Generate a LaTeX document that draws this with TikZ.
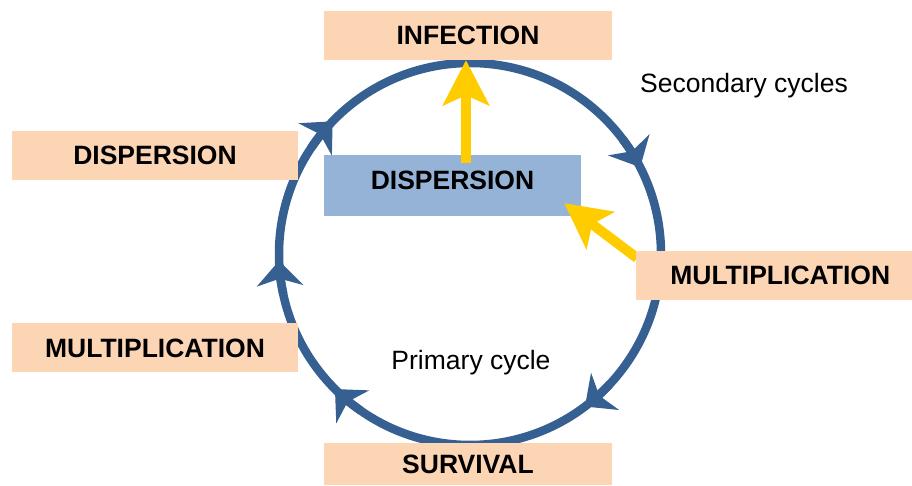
\documentclass[tikz,border=0pt]{standalone}
\usepackage{fontspec}
\setmainfont{Liberation Sans}
\usetikzlibrary{arrows.meta}

\definecolor{peach}{RGB}{252,213,181}
\definecolor{paleblue}{RGB}{149,179,215}
\definecolor{ringblue}{RGB}{55,96,146}
\definecolor{gold}{RGB}{255,204,0}

\tikzset{
  stage/.style={fill=peach, minimum height=49pt, inner sep=0pt, font=\fontsize{26.5}{30}\selectfont\bfseries},
  ring/.style={ringblue, line width=8.5pt},
  ringtip/.style={ring, -{Stealth[length=25pt,width=46pt,inset=7pt]}},
  push/.style={gold, line width=10pt, -{Stealth[length=45pt,width=46pt,inset=10pt]}},
  note/.style={font=\fontsize{26.5}{30}\selectfont}
}

\begin{document}
\begin{tikzpicture}[x=1pt,y=1pt]
    \useasboundingbox (0,0) rectangle (912,486);
    % the primary cycle, heads running clockwise
    \coordinate (c) at (470,232);
    \draw[ring] (c) circle (191pt);
    \foreach \a in {136,27,-53,225,182}
        \draw[ringtip] (c) ++(\a+10:191pt) arc[start angle=\a+10, end angle=\a, radius=191pt];

    \node[fill=paleblue, minimum width=257pt, minimum height=61pt, inner sep=0pt, text depth=10pt,
          font=\fontsize{26.5}{30}\selectfont\bfseries] (dispC) at (452.5,300.5) {DISPERSION};
    \node[stage, minimum width=288pt] (infect) at (468,450.5) {INFECTION};

    %\draw[help lines] (0,0) grid[step=50] (912,486);
    \coordinate (mr) at (636,235);
    \draw[push] ([shift={(13.5pt,-8pt)}]dispC.north) -- ([xshift=13.5pt]dispC.north |- infect.south);
    \draw[push] ([shift={(1pt,-7pt)}]mr) -- ([shift={(-17pt,13pt)}]dispC.south east);

    \node[stage, minimum width=286pt] (dispL) at (155,330.5) {DISPERSION};
    \node[stage, minimum width=286pt] (multL) at (155,138) {MULTIPLICATION};
    \node[stage, minimum width=288pt, minimum height=42pt] (surv) at (468,22) {SURVIVAL};
    \node[stage, minimum width=276pt, anchor=north west] (multR) at (mr) {\hspace*{12pt}MULTIPLICATION};

    \node[note] (second) at (744,400) {Secondary cycles};
    \node[note] (primary) at (471,123) {Primary cycle};
\end{tikzpicture}
\end{document}
